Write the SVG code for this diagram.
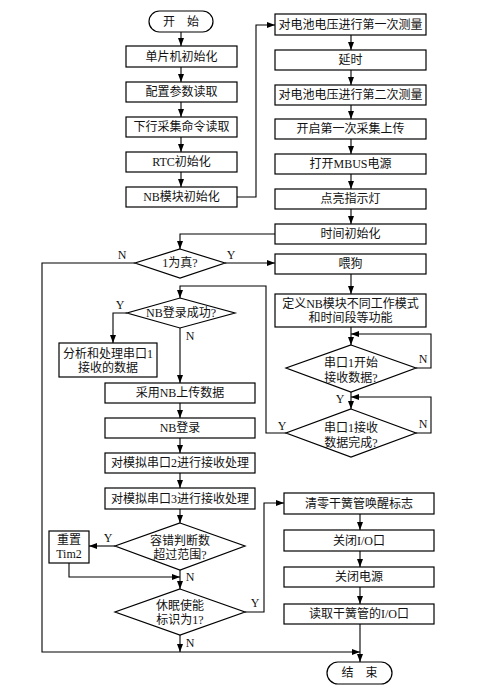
<svg xmlns="http://www.w3.org/2000/svg" width="487" height="693" viewBox="0 0 487 693">
<defs>
<marker id="arr" markerWidth="8" markerHeight="6" refX="8" refY="3" orient="auto" markerUnits="userSpaceOnUse">
<path d="M0,0 L8,3 L0,6 z" fill="#000"/>
</marker>
<style>
.b{fill:#fff;stroke:#000;stroke-width:1.2}
.t{font-family:"Liberation Serif","Noto Sans CJK SC",serif;font-size:12px;fill:#111;text-anchor:middle}
.l{font-family:"Liberation Serif","Noto Sans CJK SC",serif;font-size:12px;fill:#111;text-anchor:middle}
.c{fill:none;stroke:#000;stroke-width:1.1;marker-end:url(#arr)}
</style>
</defs>
<rect width="487" height="693" fill="#fff"/>

<g id="connectors">
<path class="c" d="M181,32 V46"/>
<path class="c" d="M181,67 V82"/>
<path class="c" d="M181,102 V117"/>
<path class="c" d="M181,137 V152"/>
<path class="c" d="M181,172 V187"/>
<path class="c" d="M237,197 H256 V25 H275"/>
<path class="c" d="M351,35 V50"/>
<path class="c" d="M351,70 V85"/>
<path class="c" d="M351,105 V119"/>
<path class="c" d="M351,139 V154"/>
<path class="c" d="M351,174 V189"/>
<path class="c" d="M351,209 V224"/>
<path class="c" d="M275,234 H180 V249"/>
<path class="c" d="M225,263 H275"/>
<path class="c" d="M135,263 H42 V652 H360"/>
<path class="c" d="M351,274 V294"/>
<path class="c" d="M351,327 V345"/>
<path class="c" d="M416,368 H431 V334 H351"/>
<path class="c" d="M351,392 V409"/>
<path class="c" d="M416,433 H431 V397 H351"/>
<path class="c" d="M286,433 H266 V286 H180 V298"/>
<path class="c" d="M127,313 H113 V343"/>
<path class="c" d="M180,328 V383"/>
<path class="c" d="M180,403 V418"/>
<path class="c" d="M180,438 V453"/>
<path class="c" d="M180,473 V488"/>
<path class="c" d="M180,509 V523"/>
<path class="c" d="M115,546 H89"/>
<path class="c" d="M69,563 V577 H180"/>
<path class="c" d="M180,570 V589"/>
<path class="c" d="M245,612 H264 V503 H284"/>
<path class="c" d="M180,635 V652"/>
<path class="c" d="M360,514 V530"/>
<path class="c" d="M360,551 V567"/>
<path class="c" d="M360,587 V604"/>
<path class="c" d="M360,624 V662"/>
</g>

<g id="labels">
<text class="l" x="122" y="259">N</text>
<text class="l" x="231" y="259">Y</text>
<text class="l" x="423" y="363">N</text>
<text class="l" x="340" y="403">Y</text>
<text class="l" x="423" y="428">N</text>
<text class="l" x="282" y="430">Y</text>
<text class="l" x="120" y="309">Y</text>
<text class="l" x="190" y="340">N</text>
<text class="l" x="108" y="542">Y</text>
<text class="l" x="190" y="581">N</text>
<text class="l" x="255" y="607">Y</text>
<text class="l" x="190" y="647">N</text>
</g>

<g id="start"><rect class="b" x="149" y="11" width="64" height="21" rx="10.5"/><text class="t" x="181" y="26">开　始</text></g>
<g id="mcu-init"><rect class="b" x="126" y="46" width="111" height="21"/><text class="t" x="181.5" y="61">单片机初始化</text></g>
<g id="cfg-read"><rect class="b" x="126" y="82" width="111" height="20"/><text class="t" x="181.5" y="96">配置参数读取</text></g>
<g id="cmd-read"><rect class="b" x="126" y="117" width="111" height="20"/><text class="t" x="181.5" y="131">下行采集命令读取</text></g>
<g id="rtc-init"><rect class="b" x="126" y="152" width="111" height="20"/><text class="t" x="181.5" y="166">RTC初始化</text></g>
<g id="nb-init"><rect class="b" x="126" y="187" width="111" height="20"/><text class="t" x="181.5" y="201">NB模块初始化</text></g>

<g id="meas1"><rect class="b" x="275" y="14" width="151" height="21"/><text class="t" x="350.5" y="29">对电池电压进行第一次测量</text></g>
<g id="delay"><rect class="b" x="275" y="50" width="151" height="20"/><text class="t" x="350.5" y="64">延时</text></g>
<g id="meas2"><rect class="b" x="275" y="85" width="151" height="20"/><text class="t" x="350.5" y="99">对电池电压进行第二次测量</text></g>
<g id="upload1"><rect class="b" x="275" y="119" width="151" height="20"/><text class="t" x="350.5" y="133">开启第一次采集上传</text></g>
<g id="mbus"><rect class="b" x="275" y="154" width="151" height="20"/><text class="t" x="350.5" y="168">打开MBUS电源</text></g>
<g id="led"><rect class="b" x="275" y="189" width="151" height="20"/><text class="t" x="350.5" y="203">点亮指示灯</text></g>
<g id="time-init"><rect class="b" x="275" y="224" width="151" height="20"/><text class="t" x="350.5" y="238">时间初始化</text></g>

<g id="cond-true"><polygon class="b" points="180,249 225,263 180,278 135,263"/><text class="t" x="180" y="267">1为真?</text></g>
<g id="feed-dog"><rect class="b" x="275" y="254" width="151" height="20"/><text class="t" x="350.5" y="268">喂狗</text></g>
<g id="define-nb"><rect class="b" x="275" y="294" width="151" height="33"/><text class="t" x="350.5" y="308">定义NB模块不同工作模式</text><text class="t" x="350.5" y="322">和时间段等功能</text></g>
<g id="uart-start"><polygon class="b" points="351,345 416,368 351,392 286,368"/><text class="t" x="351" y="367">串口1开始</text><text class="t" x="351" y="382">接收数据?</text></g>
<g id="uart-done"><polygon class="b" points="351,409 416,433 351,457 286,433"/><text class="t" x="351" y="432">串口1接收</text><text class="t" x="351" y="447">数据完成?</text></g>

<g id="nb-login-ok"><polygon class="b" points="180,298 235,313 180,328 127,313"/><text class="t" x="181" y="317">NB登录成功?</text></g>
<g id="analyze"><rect class="b" x="59" y="343" width="98" height="34"/><text class="t" x="108" y="358">分析和处理串口1</text><text class="t" x="108" y="372">接收的数据</text></g>
<g id="nb-upload"><rect class="b" x="105" y="383" width="150" height="20"/><text class="t" x="180" y="397">采用NB上传数据</text></g>
<g id="nb-login"><rect class="b" x="105" y="418" width="150" height="20"/><text class="t" x="180" y="432">NB登录</text></g>
<g id="uart2"><rect class="b" x="105" y="453" width="150" height="20"/><text class="t" x="180" y="467">对模拟串口2进行接收处理</text></g>
<g id="uart3"><rect class="b" x="105" y="488" width="150" height="21"/><text class="t" x="180" y="503">对模拟串口3进行接收处理</text></g>
<g id="fault-check"><polygon class="b" points="180,523 245,546 180,570 115,546"/><text class="t" x="180" y="545">容错判断数</text><text class="t" x="180" y="559">超过范围?</text></g>
<g id="reset-tim2"><rect class="b" x="49" y="531" width="40" height="32"/><text class="t" x="69" y="544">重置</text><text class="t" x="69" y="558">Tim2</text></g>
<g id="sleep-check"><polygon class="b" points="180,589 245,612 180,635 115,612"/><text class="t" x="180" y="610">休眠使能</text><text class="t" x="180" y="624">标识为1?</text></g>

<g id="clear-flag"><rect class="b" x="284" y="493" width="150" height="21"/><text class="t" x="359" y="508">清零干簧管唤醒标志</text></g>
<g id="close-io"><rect class="b" x="284" y="530" width="150" height="21"/><text class="t" x="359" y="545">关闭I/O口</text></g>
<g id="close-power"><rect class="b" x="284" y="567" width="150" height="20"/><text class="t" x="359" y="581">关闭电源</text></g>
<g id="read-io"><rect class="b" x="284" y="604" width="150" height="20"/><text class="t" x="359" y="618">读取干簧管的I/O口</text></g>
<g id="end"><rect class="b" x="327" y="662" width="65" height="22" rx="11"/><text class="t" x="359.5" y="677">结　束</text></g>
</svg>
